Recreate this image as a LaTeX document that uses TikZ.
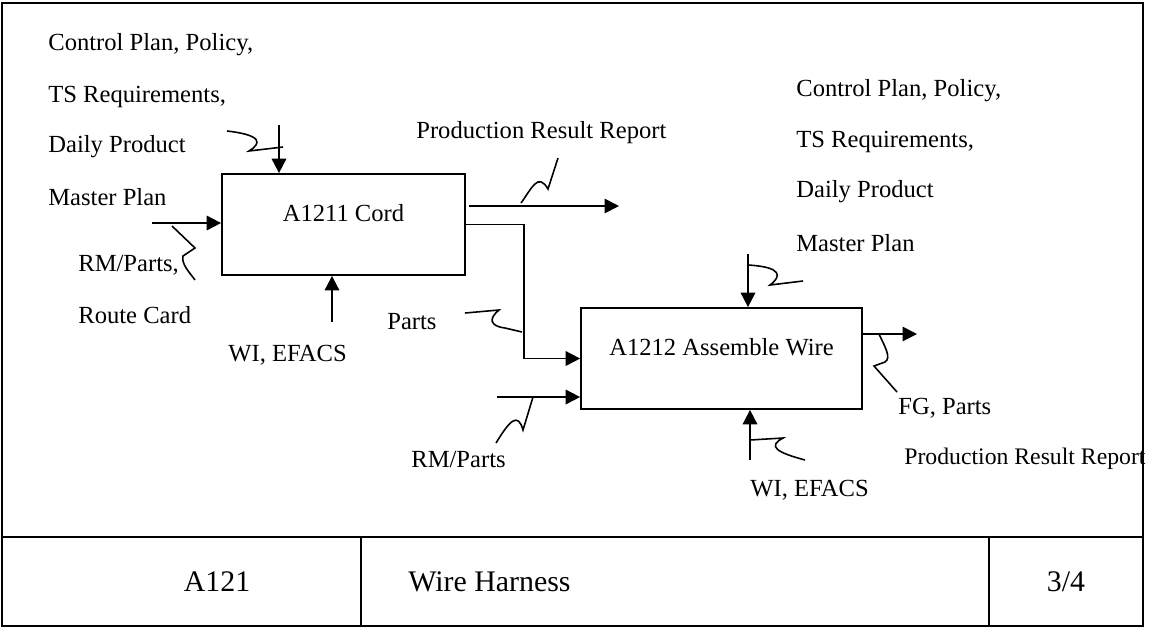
\documentclass[tikz,border=0pt]{standalone}
\usepackage{fontspec}
\setmainfont{Liberation Serif}
\usetikzlibrary{arrows.meta,positioning}

\begin{document}
\begin{tikzpicture}[x=0.02cm,y=-0.02cm,
  proc/.style={rectangle,draw,line width=1pt,minimum width=#1,minimum height=2.02cm,inner sep=0pt},
  arrow/.style={-{Triangle[length=2.9mm,width=2.9mm]},line width=1pt},
  squig/.style={line width=0.9pt},
  frame/.style={line width=1.2pt},
  lbl/.style={font=\fontsize{14}{16}\selectfont,inner sep=0pt,anchor=west},
  title/.style={font=\fontsize{14}{16}\selectfont,inner sep=0pt,anchor=center,yshift=0.22cm},
  big/.style={font=\fontsize{17}{20}\selectfont,inner sep=0pt}
]
  \useasboundingbox (0,0) rectangle (1155,627);
  % frame and title block
  \draw[frame] (2,3) rectangle (1143,626);
  \draw[frame] (2,537) -- (1143,537);
  \draw[frame] (361,537) -- (361,626) (989,537) -- (989,626);
  \node[big] (num) at (217,582) {A121};
  \node[big,anchor=west] (name) at (408,582) {Wire Harness};
  \node[big] (page) at (1066,582) {3/4};

  % activities
  \node[proc=4.86cm,label={[title]center:A1211 Cord}] (cord) at (343.5,224.5) {};
  \node[proc=5.62cm,label={[title]center:A1212 Assemble Wire}] (wire) at (721.5,358.5) {};

  % A1211 in/out
  \coordinate (cordtop) at (279,125);
  \coordinate (cordleft) at (152,223);
  \coordinate (cordbot) at (332,322);
  \coordinate (cordout) at (469,206);
  \coordinate (reportend) at (619,206);
  \draw[arrow] (cordtop) -- (cordtop |- cord.north);
  \draw[arrow] (cordleft) -- (cordleft -| cord.west);
  \draw[arrow] (cordbot) -- (cordbot |- cord.south);
  \draw[arrow] (cordout) -- (reportend);
  \draw[arrow] (cord.east) -- ++(58,0) |- (wire.west);

  % A1212 in/out
  \coordinate (wiretop) at (748,254);
  \coordinate (wireleft) at (497,397);
  \coordinate (wirebot) at (750,460);
  \coordinate (wireend) at (917,334);
  \draw[arrow] (wiretop) -- (wiretop |- wire.north);
  \draw[arrow] (wireleft) -- (wireleft -| wire.west);
  \draw[arrow] (wirebot) -- (wirebot |- wire.south);
  \draw[arrow] (wireend -| wire.east) -- (wireend);

  % squiggles
  \draw[squig] (227,131) .. controls (262,135) and (262,143) .. (249,151) -- (283,147);
  \draw[squig] (172,226) -- (195,248) -- (183,256) .. controls (181,264) and (190,273) .. (195,280);
  \draw[squig] (521,203) .. controls (532,188) and (538,172) .. (548,189) -- (558,158);
  \draw[squig] (465,313) -- (499,310) .. controls (489,318) and (489,326) .. (505,328) -- (522,332);
  \draw[squig] (533,397) -- (523,430) .. controls (518,412) and (510,420) .. (496,443);
  \draw[squig] (748,265) .. controls (782,267) and (782,276) .. (770,285) -- (803,281);
  \draw[squig] (879,334) .. controls (884,345) and (892,358) .. (885,362) -- (874,366) -- (897,392);
  \draw[squig] (750,440) -- (783,438) .. controls (768,446) and (775,452) .. (805,460);

  % labels
  \node[lbl] (ctl1) at (48,45) {Control Plan, Policy,};
  \node[lbl] (ctl2) at (48,97) {TS Requirements,};
  \node[lbl] (ctl3) at (48,147) {Daily Product};
  \node[lbl] (ctl4) at (48,197) {Master Plan};
  \node[lbl] (in1) at (78,265) {RM/Parts,};
  \node[lbl] (in2) at (78,315) {Route Card};
  \node[lbl] (mech1) at (228,355) {WI, EFACS};
  \node[lbl] (out1) at (416,133) {Production Result Report};
  \node[lbl] (parts) at (387,322) {Parts};
  \node[lbl] (rm) at (411,459) {RM/Parts};
  \node[lbl] (rctl1) at (796,91) {Control Plan, Policy,};
  \node[lbl] (rctl2) at (796,142) {TS Requirements,};
  \node[lbl] (rctl3) at (796,192) {Daily Product};
  \node[lbl] (rctl4) at (796,243) {Master Plan};
  \node[lbl] (fg) at (898,408) {FG, Parts};
  \node[lbl,font=\fontsize{13.5}{16}\selectfont] (out2) at (904,459) {Production Result Report};
  \node[lbl] (mech2) at (750,490) {WI, EFACS};
\end{tikzpicture}
\end{document}
